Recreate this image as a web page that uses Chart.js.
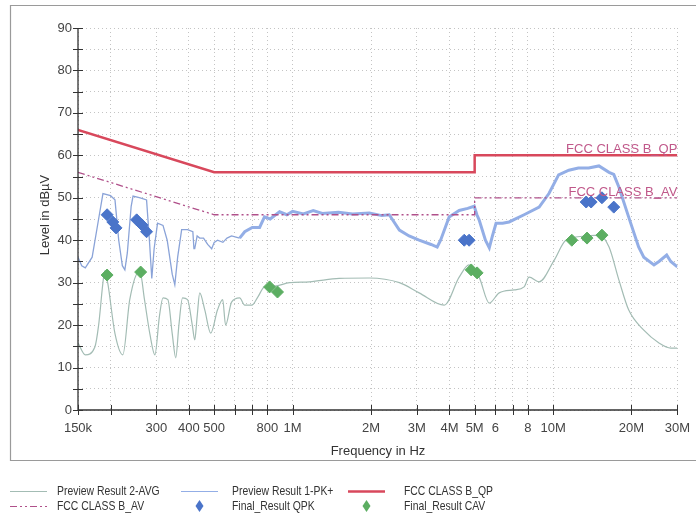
<!DOCTYPE html>
<html>
<head>
<meta charset="utf-8">
<script src="https://cdn.jsdelivr.net/npm/chart.js@4/dist/chart.umd.min.js"></script>
<style>
  html, body { margin: 0; padding: 0; background: #fff; }
  #wrap { width: 696px; height: 518px; position: relative; }
</style>
</head>
<body>
<div id="wrap"><canvas id="graphCanvas"></canvas></div>
<script>
// frequencies in MHz, levels in dBuV
var pk_freq = [0.150, 0.155, 0.160, 0.170, 0.180, 0.187, 0.200, 0.208, 0.215, 0.222, 0.227, 0.232, 0.240, 0.244, 0.260, 0.275, 0.282, 0.288, 0.294, 0.303, 0.318, 0.330, 0.345, 0.353, 0.362, 0.375, 0.395, 0.414, 0.418, 0.421, 0.430, 0.440, 0.455, 0.472, 0.489, 0.500, 0.515, 0.540, 0.560, 0.583, 0.626, 0.655, 0.700, 0.747, 0.780, 0.820, 0.891, 0.95, 1.0, 1.1, 1.2, 1.3, 1.5, 1.7, 1.97, 2.2, 2.35, 2.57, 2.8, 3.06, 3.4, 3.59, 3.7, 3.99, 4.36, 4.7, 4.98, 5.1, 5.2, 5.5, 5.69, 5.85, 6.04, 6.4, 6.78, 7.74, 8.84, 9.64, 10.5, 11.5, 12.5, 13.7, 15.0, 16.4, 17.1, 17.9, 19.5, 21.3, 22.3, 24.4, 25.5, 27.3, 28.3, 30.0];
var pk_level = [36, 34, 33.5, 36, 45, 51, 50.5, 49.5, 40, 34, 33, 37, 48, 50.4, 50, 49.5, 40, 31, 38, 44, 43.5, 40, 32, 29.5, 36, 42.5, 42.5, 42, 38, 38, 41, 40.5, 40.5, 39, 38, 39.5, 40, 39.5, 40.5, 41, 40.5, 42, 43, 43, 45.5, 45, 46.7, 46, 46.8, 46.2, 47, 46.3, 46.6, 46.2, 46.4, 45.8, 46, 42.4, 41, 40, 39, 38.4, 40, 45.5, 47, 47.5, 48, 46, 44.8, 40, 38.2, 41, 44, 44, 44.3, 46, 47.8, 51, 55.4, 56.5, 57, 57, 57.5, 56, 55.5, 52.5, 45.5, 38.4, 36, 34.2, 35, 36.5, 35, 33.7];

var av_freq = [0.150, 0.160, 0.174, 0.180, 0.187, 0.190, 0.195, 0.208, 0.223, 0.237, 0.259, 0.270, 0.283, 0.296, 0.308, 0.318, 0.332, 0.345, 0.356, 0.366, 0.378, 0.395, 0.412, 0.421, 0.430, 0.440, 0.460, 0.485, 0.515, 0.539, 0.553, 0.583, 0.626, 0.655, 0.697, 0.735, 0.780, 0.853, 0.973, 1.16, 1.51, 1.97, 2.57, 3.06, 3.82, 4.36, 4.76, 5.2, 5.69, 6.21, 7.09, 7.74, 8.09, 8.84, 10.1, 11.2, 13.5, 15.0, 16.4, 17.9, 19.5, 22.3, 25.5, 28.3, 30.0];
var av_level = [15.8, 13, 14.8, 20, 30, 32.8, 30, 18, 13, 26, 32.8, 26, 18, 13, 22, 26.4, 26, 18, 12.3, 20, 26.4, 26, 20, 16.5, 22, 27.6, 23.6, 18.1, 23.6, 26, 20, 25.4, 26.4, 24.7, 24.7, 26.6, 29, 29.2, 30, 30.2, 31, 31.1, 30, 27.6, 24.7, 31.3, 34.2, 31.3, 25.2, 27.6, 28.3, 29, 31.3, 30.2, 35.3, 40, 41, 41.2, 38.4, 30.6, 23.6, 18.8, 15.8, 14.6, 14.6];

var qp_lim_freq = [0.15, 0.5, 5, 5, 30];
var qp_lim_level = [66, 56, 56, 60, 60];
var av_lim_freq = [0.15, 0.5, 5, 5, 30];
var av_lim_level = [56, 46, 46, 50, 50];

var qpk_freq = [0.194, 0.204, 0.210, 0.252, 0.264, 0.275, 4.56, 4.76, 13.4, 14.0, 15.4, 17.1];
var qpk_level = [46, 44.3, 42.9, 44.8, 43.6, 42, 40, 40, 49, 49, 50, 47.8];
var cav_freq = [0.194, 0.261, 0.816, 0.875, 4.85, 5.11, 11.8, 13.5, 15.4];
var cav_level = [31.8, 32.5, 29, 27.8, 33, 32.3, 40, 40.5, 41.2];

var x_ticks = [0.15, 0.2, 0.3, 0.4, 0.5, 0.6, 0.7, 0.8, 1, 2, 3, 4, 5, 6, 7, 8, 10, 20, 30];
var x_labels = ['150k', '', '300', '400', '500', '', '', '800', '1M', '2M', '3M', '4M', '5M', '6', '', '8', '10M', '20M', '30M'];

function pts(f, l) {
    var out = [];
    for (var i in f) {
        out.push({x: f[i], y: l[i]});
    }
    return out;
}

var FONT = "'Liberation Sans', Arial, sans-serif";

var datasets = [
    {label: 'Preview Result 2-AVG', data: pts(av_freq, av_level), borderColor: '#a3bcb4', borderWidth: 1.2, pointRadius: 0, cubicInterpolationMode: 'monotone', order: 5},
    {label: 'Preview Result 1-PK+', data: pts(pk_freq, pk_level), borderColor: '#93aee6', borderWidth: 1.2, pointRadius: 0, order: 4,
        segment: {
            borderWidth: function(c) { return c.p0.parsed.x < 0.6 ? 1.3 : 3; },
            borderColor: function(c) { return c.p0.parsed.x < 0.6 ? '#8aa3d8' : '#93aee6'; }
        }},
    {label: 'FCC CLASS B_QP', data: pts(qp_lim_freq, qp_lim_level), borderColor: '#d8485c', borderWidth: 2.5, pointRadius: 0, order: 3},
    {label: 'FCC CLASS B_AV', data: pts(av_lim_freq, av_lim_level), borderColor: '#b0508a', borderWidth: 1.3, borderDash: [7, 3, 2, 3, 2, 3], pointRadius: 0, order: 3},
    {label: 'Final_Result QPK', data: pts(qpk_freq, qpk_level), type: 'scatter', showLine: false, backgroundColor: '#4a74c9', borderColor: '#4a74c9', pointStyle: 'rectRot', pointRadius: 6, order: 1},
    {label: 'Final_Result CAV', data: pts(cav_freq, cav_level), type: 'scatter', showLine: false, backgroundColor: '#5cae62', borderColor: '#5cae62', pointStyle: 'rectRot', pointRadius: 6, order: 1}
];

// frame, axes, tick marks, titles, limit labels and legend
var extras = {
    id: 'extras',
    afterDraw: function(chart) {
        var ctx = chart.ctx;
        var xs = chart.scales.x, ys = chart.scales.y;
        ctx.save();
        // frame
        ctx.strokeStyle = '#9a9a9a';
        ctx.lineWidth = 1.2;
        ctx.beginPath();
        ctx.moveTo(700, 5.5); ctx.lineTo(10.5, 5.5); ctx.lineTo(10.5, 460.5); ctx.lineTo(700, 460.5);
        ctx.stroke();
        // axes and tick marks crossing them
        ctx.strokeStyle = '#333';
        ctx.lineWidth = 1.3;
        ctx.beginPath();
        ctx.moveTo(xs.left, ys.top); ctx.lineTo(xs.left, ys.bottom); ctx.lineTo(xs.right, ys.bottom);
        ctx.stroke();
        ctx.lineWidth = 1;
        ctx.beginPath();
        xs.ticks.forEach(function(t) {
            var px = Math.round(xs.getPixelForValue(t.value)) + 0.5;
            ctx.moveTo(px, ys.bottom + 5); ctx.lineTo(px, ys.bottom - 5);
        });
        ys.ticks.forEach(function(t) {
            var py = Math.round(ys.getPixelForValue(t.value)) + 0.5;
            ctx.moveTo(xs.left - 5, py); ctx.lineTo(xs.left + 5, py);
        });
        ctx.stroke();
        // axis titles
        ctx.fillStyle = '#333';
        ctx.font = '13px ' + FONT;
        ctx.textAlign = 'center';
        ctx.textBaseline = 'middle';
        ctx.fillText('Frequency in Hz', 378, 451);
        ctx.save();
        ctx.translate(45, 215);
        ctx.rotate(-Math.PI / 2);
        ctx.fillText('Level in dBµV', 0, 0);
        ctx.restore();
        // limit line labels
        ctx.fillStyle = '#c0588a';
        ctx.textAlign = 'right';
        ctx.fillText('FCC CLASS B_QP', xs.right, ys.getPixelForValue(61.5));
        ctx.fillText('FCC CLASS B_AV', xs.right, ys.getPixelForValue(51.2));
        // legend, 3 columns x 2 rows, condensed text
        var cols = [[10, 57], [181, 232], [348, 404]];
        var rows = [491, 506];
        ctx.textAlign = 'left';
        chart.data.datasets.forEach(function(ds, k) {
            var c = cols[k % 3], ry = rows[Math.floor(k / 3)];
            ctx.save();
            ctx.translate(c[1], ry);
            ctx.scale(0.8, 1);
            ctx.fillStyle = '#333';
            ctx.font = '13px ' + FONT;
            ctx.fillText(ds.label, 0, 0);
            ctx.restore();
            if (ds.type === 'scatter') {
                var cx = c[0] + 18.5, s = 5;
                ctx.fillStyle = ds.backgroundColor;
                ctx.beginPath();
                ctx.moveTo(cx, ry - s - 1); ctx.lineTo(cx + s - 1, ry); ctx.lineTo(cx, ry + s + 1); ctx.lineTo(cx - s + 1, ry);
                ctx.closePath();
                ctx.fill();
            } else {
                ctx.strokeStyle = ds.borderColor;
                ctx.lineWidth = k === 2 ? 2.5 : 1.2;
                ctx.setLineDash(ds.borderDash || []);
                ctx.beginPath();
                ctx.moveTo(c[0], ry + 0.5); ctx.lineTo(c[0] + 37, ry + 0.5);
                ctx.stroke();
                ctx.setLineDash([]);
            }
        });
        ctx.restore();
    }
};

var chart = new Chart(document.getElementById('graphCanvas'), {
    type: 'line',
    data: {datasets: datasets},
    plugins: [extras],
    options: {
        responsive: true,
        maintainAspectRatio: false,
        animation: false,
        layout: {padding: {left: 0, top: 28, right: 17, bottom: 58}},
        plugins: {legend: {display: false}, tooltip: {enabled: false}},
        elements: {line: {tension: 0}},
        scales: {
            x: {
                type: 'logarithmic',
                min: 0.15,
                max: 30,
                afterBuildTicks: function(scale) {
                    scale.ticks = x_ticks.map(function(v) { return {value: v}; });
                },
                afterFit: function(scale) { scale.height = 50; },
                ticks: {
                    autoSkip: false,
                    maxRotation: 0,
                    padding: 6,
                    color: '#444',
                    font: {family: FONT, size: 13},
                    callback: function(value, index) { return x_labels[index]; }
                },
                grid: {color: '#c4c4c4', drawTicks: true, tickColor: 'rgba(0,0,0,0)', tickLength: 5, lineWidth: 1, borderDash: [1, 3]},
                border: {display: false, dash: [1, 3]}
            },
            y: {
                min: 0,
                max: 90,
                afterFit: function(scale) { scale.width = 78; },
                ticks: {
                    stepSize: 5,
                    padding: 1,
                    color: '#444',
                    font: {family: FONT, size: 13},
                    callback: function(value) { return value % 10 === 0 ? value : ''; }
                },
                grid: {color: '#c4c4c4', drawTicks: true, tickColor: 'rgba(0,0,0,0)', tickLength: 5, lineWidth: 1, borderDash: [1, 3]},
                border: {display: false, dash: [1, 3]}
            }
        }
    }
});
</script>
</body>
</html>
